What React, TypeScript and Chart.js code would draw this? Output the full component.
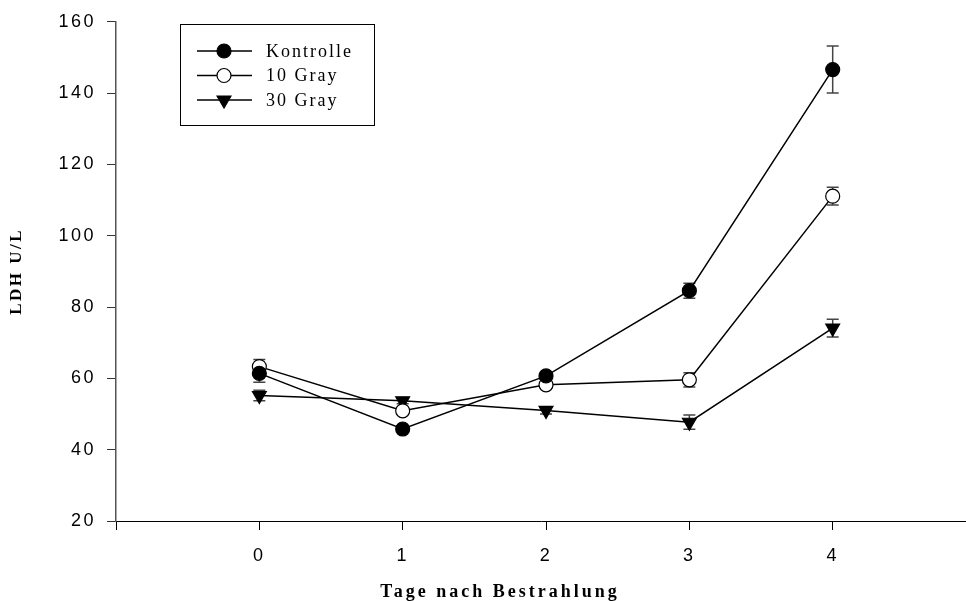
import React, { useEffect, useRef } from 'react';
import { Chart, registerables } from 'chart.js';
import { drawPoint } from 'chart.js/helpers';

Chart.register(...registerables);

const days = [0, 1, 2, 3, 4];
const kontrolle = [61.4, 45.8, 60.7, 84.6, 146.6];
const kontrolleErr = [2.5, 0.8, 1.0, 2.1, 6.6];
const gray10 = [63.3, 50.9, 58.2, 59.6, 111.1];
const gray10Err = [2.0, 1.0, 1.0, 2.0, 2.5];
const gray30 = [55.2, 53.7, 51.0, 47.7, 74.1];
const gray30Err = [1.5, 0.8, 1.0, 2.0, 2.5];
const seriesLabels = ['Kontrolle', '10 Gray', '30 Gray'];
const xTickValues = [-1, 0, 1, 2, 3, 4];
const yTitle = 'LDH U/L';
const xTitle = 'Tage nach Bestrahlung';

const errors = [kontrolleErr, gray10Err, gray30Err];

const spacingPlugin = {
  id: 'spacing',
  beforeDraw(chart: any) {
    (chart.ctx as any).letterSpacing = '2.5px';
  },
};

const errorBarPlugin = {
  id: 'errorBars',
  beforeDatasetsDraw(chart: any) {
    const ctx = chart.ctx;
    const xs = chart.scales.x;
    const ys = chart.scales.y;
    ctx.save();
    ctx.strokeStyle = '#444';
    ctx.lineWidth = 1.5;
    chart.data.datasets.forEach((ds: any, i: number) => {
      ds.data.forEach((p: any, j: number) => {
        const e = errors[i][j];
        const x = xs.getPixelForValue(p.x);
        const yT = ys.getPixelForValue(p.y + e);
        const yB = ys.getPixelForValue(p.y - e);
        ctx.beginPath();
        ctx.moveTo(x, yT);
        ctx.lineTo(x, yB);
        ctx.moveTo(x - 6, yT);
        ctx.lineTo(x + 6, yT);
        ctx.moveTo(x - 6, yB);
        ctx.lineTo(x + 6, yB);
        ctx.stroke();
      });
    });
    ctx.restore();
  },
};

const xTitlePlugin = {
  id: 'xTitle',
  afterDraw(chart: any) {
    const ctx = chart.ctx;
    ctx.save();
    (ctx as any).letterSpacing = '3px';
    ctx.fillStyle = '#000';
    ctx.font = 'bold 18px "Liberation Serif"';
    ctx.textAlign = 'center';
    ctx.textBaseline = 'middle';
    ctx.fillText(xTitle, 500, 592);
    ctx.restore();
  },
};

const legendPlugin = {
  id: 'boxLegend',
  afterDraw(chart: any) {
    const ctx = chart.ctx;
    ctx.save();
    (ctx as any).letterSpacing = '2px';
    ctx.strokeStyle = '#000';
    ctx.lineWidth = 1;
    ctx.strokeRect(180.5, 24.5, 194, 101);
    chart.data.datasets.forEach((ds: any, i: number) => {
      const y = 51 + i * 24.5;
      ctx.beginPath();
      ctx.strokeStyle = '#000';
      ctx.lineWidth = 1.5;
      ctx.moveTo(197, y);
      ctx.lineTo(252, y);
      ctx.stroke();
      ctx.fillStyle = ds.pointBackgroundColor;
      ctx.strokeStyle = ds.pointBorderColor;
      ctx.lineWidth = ds.pointBorderWidth;
      drawPoint(ctx, { pointStyle: ds.pointStyle, rotation: ds.pointRotation, radius: ds.pointRadius, borderWidth: ds.pointBorderWidth }, 224, y);
      ctx.fillStyle = '#000';
      ctx.font = '18px "Liberation Serif"';
      ctx.textBaseline = 'middle';
      ctx.textAlign = 'left';
      ctx.fillText(ds.label, 266, y + 1);
    });
    ctx.restore();
  },
};

function toPoints(vals: number[]) {
  return vals.map((v, i) => ({ x: days[i], y: v }));
}

export default function App() {
  const ref = useRef<HTMLCanvasElement>(null);
  useEffect(() => {
    if (!ref.current) return;
    const common = {
      borderColor: '#000',
      borderWidth: 1.5,
      pointBorderColor: '#000',
      pointBorderWidth: 1.2,
      showLine: true,
      tension: 0,
    };
    const chart = new Chart(ref.current, {
      type: 'scatter',
      data: {
        datasets: [
          { ...common, label: seriesLabels[0], data: toPoints(kontrolle), pointStyle: 'circle', pointRadius: 7, pointBackgroundColor: '#000', pointRotation: 0 },
          { ...common, label: seriesLabels[1], data: toPoints(gray10), pointStyle: 'circle', pointRadius: 7, pointBackgroundColor: '#fff', pointRotation: 0 },
          { ...common, label: seriesLabels[2], data: toPoints(gray30), pointStyle: 'triangle', pointRadius: 8, pointBackgroundColor: '#000', pointRotation: 180 },
        ],
      } as any,
      options: {
        responsive: false,
        animation: false,
        devicePixelRatio: 1,
        layout: { autoPadding: false, padding: { top: 21, right: 0, left: 0, bottom: 0 } },
        plugins: { legend: { display: false }, tooltip: { enabled: false } },
        scales: {
          x: {
            type: 'linear',
            min: -1,
            max: 4.93,
            afterBuildTicks: (s: any) => {
              s.ticks = xTickValues.map((v) => ({ value: v }));
            },
            afterFit: (s: any) => {
              s.height = 80;
              s.paddingRight = 0;
              s.paddingLeft = 0;
            },
            ticks: {
              callback: (v: any) => (v < 0 ? '' : String(v)),
              font: { family: '"Liberation Sans"', size: 18 },
              color: '#000',
              padding: 15,
              maxRotation: 0,
            },
            grid: { drawOnChartArea: false, drawTicks: true, tickLength: 9, color: '#000' },
            border: { color: '#000', width: 1 },
            title: { display: false },
          },
          y: {
            type: 'linear',
            min: 20,
            max: 160,
            afterFit: (s: any) => {
              s.width = 116;
            },
            ticks: {
              stepSize: 20,
              font: { family: '"Liberation Sans"', size: 18 },
              color: '#000',
              padding: 11,
            },
            grid: { drawOnChartArea: false, drawTicks: true, tickLength: 9, color: '#333' },
            border: { color: '#555', width: 1.5 },
            title: {
              display: true,
              text: yTitle,
              font: { family: '"Liberation Serif"', size: 17, weight: 'bold' },
              color: '#000',
              padding: { top: 6, bottom: 0 },
            },
          },
        },
      } as any,
      plugins: [spacingPlugin, errorBarPlugin, legendPlugin, xTitlePlugin],
    });
    return () => chart.destroy();
  }, []);
  return (
    <div style={{ position: 'fixed', left: 0, top: 0, width: 966, height: 601, background: '#fff' }}>
      <canvas ref={ref} width={966} height={601} />
    </div>
  );
}
